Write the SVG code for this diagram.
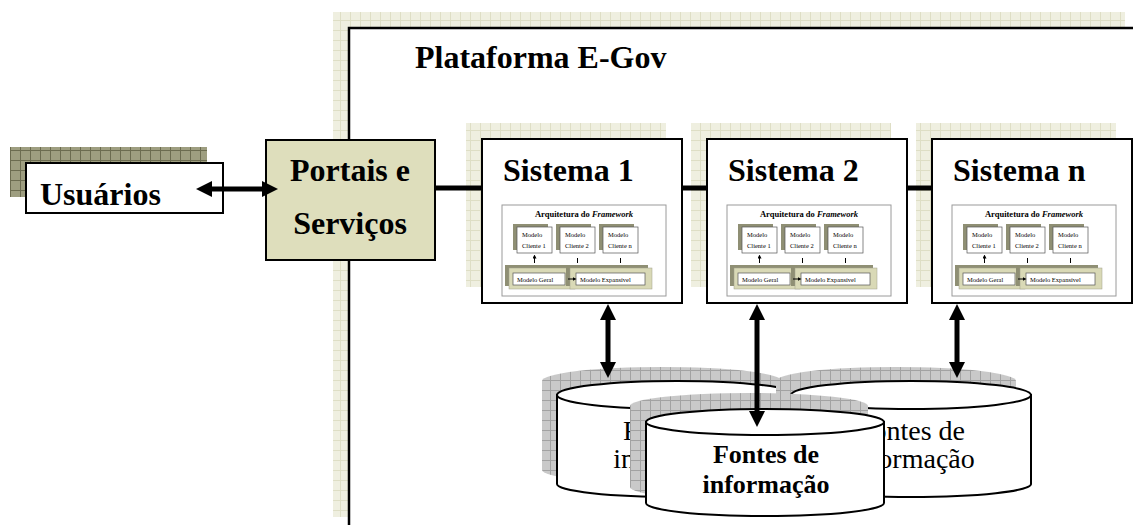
<svg xmlns="http://www.w3.org/2000/svg" width="1133" height="525" viewBox="0 0 1133 525">
<defs>
<style>
.t{font-family:"Liberation Serif","Times New Roman",serif;fill:#000;}
.h{font-size:32px;font-weight:bold;}
.box{fill:#fff;stroke:#000;stroke-width:2;}
.shp{fill:url(#pale);}
.con{stroke:#000;stroke-width:5;fill:none;}
.cyl{fill:#fff;stroke:#000;stroke-width:2;}
.ell{fill:#fff;stroke:#000;stroke-width:2;}
.cyls{fill:url(#gray);}
.sm{font-size:6.5px;}
.mini{fill:#fff;stroke:#555;stroke-width:0.7;}
.msh{fill:#8f8f74;}
.pan{fill:#d9d9b6;stroke:#a0a08a;stroke-width:0.5;}
.sa{stroke:#000;stroke-width:1;fill:none;}
</style>
<pattern id="pale" width="10" height="10" patternUnits="userSpaceOnUse">
<rect width="10" height="10" fill="#efefe0"/>
<path d="M0,0.5H10M0.5,0V10" stroke="#dedec5" stroke-width="1"/>
</pattern>
<pattern id="dark" width="10" height="10" patternUnits="userSpaceOnUse">
<rect width="10" height="10" fill="#9e9e80"/>
<path d="M0,0.5H10M0.5,0V10" stroke="#6c6c50" stroke-width="1"/>
</pattern>
<pattern id="gray" width="10" height="10" patternUnits="userSpaceOnUse">
<rect width="10" height="10" fill="#c9c9c9"/>
<path d="M0,0.5H10M0.5,0V10" stroke="#a2a2a2" stroke-width="1"/>
</pattern>
<marker id="ah" viewBox="0 0 16 16" refX="1" refY="8" markerWidth="16" markerHeight="16" markerUnits="userSpaceOnUse" orient="auto-start-reverse"><path d="M0,0L16,8L0,16Z" fill="#000"/></marker>
<marker id="sah" viewBox="0 0 4 4" refX="0.5" refY="2" markerWidth="4" markerHeight="4" markerUnits="userSpaceOnUse" orient="auto-start-reverse"><path d="M0,0L4,2L0,4Z" fill="#000"/></marker>
<g id="fw">
<rect x="20" y="66" width="164" height="91" fill="#fff" stroke="#9a9a9a" stroke-width="1"/>
<text class="t" x="102" y="78" text-anchor="middle" font-size="8.5" font-weight="bold">Arquitetura do <tspan font-style="italic">Framework</tspan></text>
<rect class="msh" x="31" y="85" width="35" height="26"/>
<rect class="mini" x="35" y="88" width="35" height="26"/>
<rect class="msh" x="74" y="85" width="35" height="26"/>
<rect class="mini" x="78" y="88" width="35" height="26"/>
<rect class="msh" x="117" y="85" width="35" height="26"/>
<rect class="mini" x="121" y="88" width="35" height="26"/>
<text class="t sm" x="40" y="98">Modelo</text>
<text class="t sm" x="40" y="109">Cliente 1</text>
<text class="t sm" x="83" y="98">Modelo</text>
<text class="t sm" x="83" y="109">Cliente 2</text>
<text class="t sm" x="126" y="98">Modelo</text>
<text class="t sm" x="126" y="109">Cliente n</text>
<rect class="msh" x="23" y="126" width="66" height="21"/>
<rect class="pan" x="27" y="129" width="66" height="21"/>
<rect class="msh" x="84" y="126" width="82" height="21"/>
<rect class="pan" x="88" y="129" width="82" height="21"/>
<rect class="mini" x="31" y="134" width="52" height="12"/>
<rect class="mini" x="94" y="134" width="69" height="12"/>
<text class="t sm" x="35" y="142.5">Modelo Geral</text>
<text class="t sm" x="98" y="142.5">Modelo Expansível</text>
<path class="sa" d="M52.5,119V124M95.5,119V124M138.5,119V124M86,140H91" marker-start="url(#sah)" marker-end="url(#sah)"/>
</g>
</defs>

<g id="plataforma">
<rect class="shp" x="333" y="12" width="792" height="505"/>
<rect x="349" y="28" width="792" height="505" fill="#fff" stroke="#000" stroke-width="2.5"/>
<text class="t h" x="415" y="68">Plataforma E-Gov</text>
</g>

<g id="usuarios">
<rect x="10" y="147" width="197" height="50" fill="url(#dark)"/>
<rect class="box" x="26" y="163" width="197" height="50"/>
<text class="t h" x="40" y="205">Usuários</text>
</g>

<g id="portais">
<rect x="266" y="140" width="169" height="120" fill="#dedebc" stroke="#000" stroke-width="2"/>
<text class="t h" x="350" y="181" text-anchor="middle">Portais e</text>
<text class="t h" x="350" y="234" text-anchor="middle">Serviços</text>
</g>

<g id="sistema1">
<rect class="shp" x="466" y="123" width="200" height="164"/>
<rect class="box" x="482" y="139" width="200" height="164"/>
<text class="t h" x="503" y="181">Sistema 1</text>
<use href="#fw" x="482" y="139"/>
</g>

<g id="sistema2">
<rect class="shp" x="691" y="123" width="200" height="164"/>
<rect class="box" x="707" y="139" width="200" height="164"/>
<text class="t h" x="728" y="181">Sistema 2</text>
<use href="#fw" x="707" y="139"/>
</g>

<g id="sisteman">
<rect class="shp" x="916" y="123" width="200" height="164"/>
<rect class="box" x="932" y="139" width="200" height="164"/>
<text class="t h" x="953" y="181">Sistema n</text>
<use href="#fw" x="932" y="139"/>
</g>

<g id="fontes-esquerda">
<path class="cyls" d="M542,381A120,14 0 0 1 782,381L782,470A120,13 0 0 1 542,470Z"/>
<path class="cyl" d="M557,395L557,484A120,13 0 0 0 797,484L797,395Z"/>
<ellipse class="ell" cx="677" cy="395" rx="120" ry="14"/>
<text class="t" x="677" y="440" font-size="28" text-anchor="middle">Fontes de</text>
<text class="t" x="677" y="468" font-size="28" text-anchor="middle">informação</text>
</g>

<g id="fontes-direita">
<path class="cyls" d="M776,381A120,14 0 0 1 1016,381L1016,470A120,13 0 0 1 776,470Z"/>
<path class="cyl" d="M791,395L791,484A120,13 0 0 0 1031,484L1031,395Z"/>
<ellipse class="ell" cx="911" cy="395" rx="120" ry="14"/>
<text class="t" x="911" y="440" font-size="28" text-anchor="middle">Fontes de</text>
<text class="t" x="911" y="468" font-size="28" text-anchor="middle">informação</text>
</g>

<g id="fontes-frente">
<path class="cyls" d="M630,406A119,13 0 0 1 868,406L868,487A119,13 0 0 1 630,487Z"/>
<path class="cyl" d="M646,422L646,503A119,13 0 0 0 884,503L884,422Z"/>
<ellipse class="ell" cx="765" cy="422" rx="119" ry="13"/>
<text class="t" x="766" y="463" font-size="26" font-weight="bold" text-anchor="middle">Fontes de</text>
<text class="t" x="766" y="493" font-size="26" font-weight="bold" text-anchor="middle">informação</text>
</g>

<g id="conectores">
<path class="con" d="M435,188H482M682,188H707M907,188H932"/>
<path class="con" d="M211,189H263" marker-start="url(#ah)" marker-end="url(#ah)"/>
<path class="con" d="M608,319V363" marker-start="url(#ah)" marker-end="url(#ah)"/>
<path class="con" d="M757,319V412" marker-start="url(#ah)" marker-end="url(#ah)"/>
<path class="con" d="M957,319V363" marker-start="url(#ah)" marker-end="url(#ah)"/>
</g>
</svg>
